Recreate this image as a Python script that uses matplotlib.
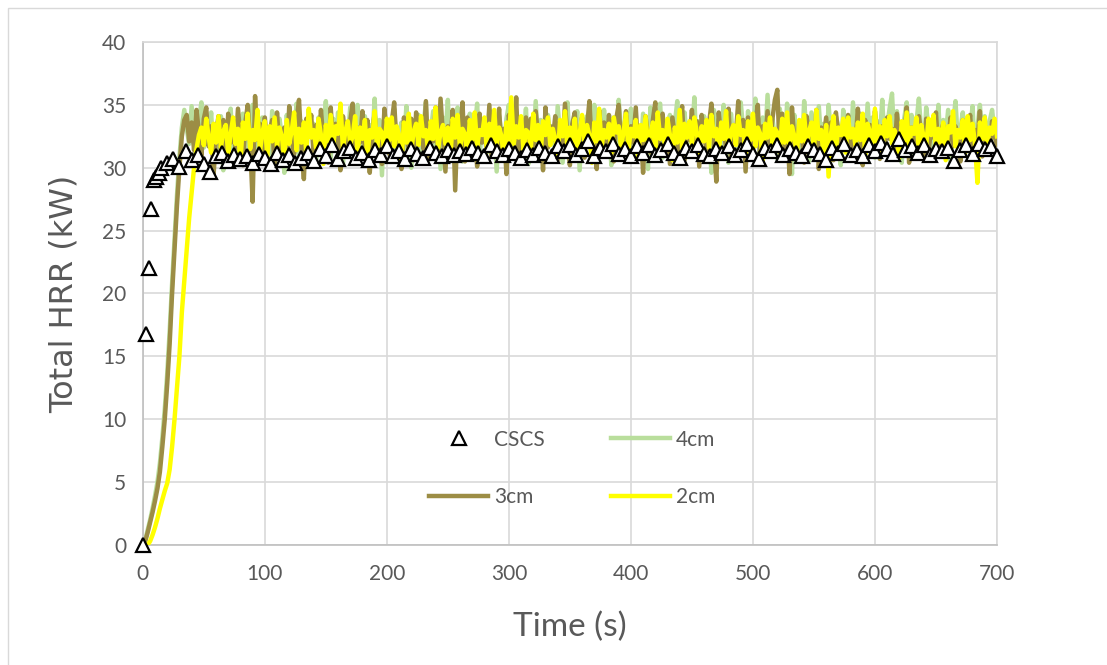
import numpy as np
import matplotlib
matplotlib.use("Agg")
import matplotlib.pyplot as plt
from matplotlib.patches import Rectangle

# total heat release rate, sampled every 2 s from t = 0
DT = 2

hrr_4cm = [
    0, 0.4, 1.2, 2.0, 2.9, 3.9, 5.0, 6.5, 8.5, 10.8, 13.6, 17.0, 20.8, 24.3, 27.8, 30.8, 33.2,
    34.6, 33.1, 31.9, 34.9, 32.4, 30.3, 33.7, 35.2, 31.6, 33.0,
    32.2, 34.4, 30.8, 33.5, 31.4, 34.1, 29.8, 33.2, 32.6, 34.7,
    31.1, 33.8, 32.0, 30.5, 34.3, 32.9, 31.7, 33.4, 35.0, 30.9,
    33.6, 32.3, 34.0, 31.2, 32.8, 30.1, 34.5, 33.0, 31.8, 33.9,
    32.5, 29.6, 34.2, 31.5, 33.3, 32.1, 35.1, 30.7, 33.7, 32.4,
    31.0, 34.6, 32.7, 33.5, 30.4, 34.0, 31.9, 33.2, 35.3, 32.2,
    30.8, 33.9, 31.6, 34.4, 32.9, 30.2, 33.6, 32.3, 34.8, 31.3,
    33.0, 35.0, 31.7, 32.6, 34.1, 30.6, 33.4, 32.0, 35.5, 31.1,
    33.8, 29.4, 34.3, 32.5, 31.4, 33.1, 34.7, 30.9, 32.8, 33.6,
    31.5, 34.9, 32.2, 30.0, 33.7, 32.7, 34.2, 31.2, 33.3, 35.2,
    30.6, 32.9, 34.5, 31.8, 33.5, 29.9, 34.0, 32.4, 35.4, 31.0,
    33.2, 31.6, 34.8, 32.3, 30.5, 33.8, 32.0, 34.3, 31.4, 33.0,
    35.1, 30.8, 33.6, 32.6, 31.2, 34.6, 32.1, 33.4, 29.7, 34.1,
    32.8, 31.5, 33.9, 35.0, 30.7, 32.5, 34.4, 31.9, 33.1, 32.2,
    34.7, 30.3, 33.5, 32.0, 35.3, 31.3, 33.8, 32.6, 30.9, 34.2,
    32.4, 33.3, 31.1, 34.9, 32.7, 30.4, 33.6, 35.2, 31.7, 33.0,
    32.3, 34.5, 29.8, 33.7, 31.6, 34.1, 32.8, 30.6, 35.0, 32.1,
    33.4, 31.0, 34.6, 32.5, 33.2, 30.2, 34.0, 31.8, 35.4, 32.9,
    31.4, 33.9, 32.2, 34.7, 30.7, 33.3, 32.6, 31.2, 34.3, 33.0,
    29.9, 34.8, 32.4, 33.6, 31.5, 35.1, 30.8, 33.1, 32.7, 34.2,
    31.3, 33.5, 35.3, 30.5, 32.9, 34.4, 31.9, 33.2, 32.0, 35.6,
    30.9, 33.7, 32.3, 34.1, 31.1, 33.0, 29.6, 34.6, 32.5, 33.8,
    31.7, 35.0, 32.8, 30.4, 34.3, 32.2, 33.4, 31.4, 35.2, 33.1,
    30.8, 34.5, 32.6, 31.9, 35.5, 33.3, 30.3, 34.0, 32.1, 35.8,
    31.6, 33.9, 32.4, 30.7, 34.7, 33.0, 31.2, 35.1, 32.9, 29.5,
    34.2, 32.3, 33.6, 31.0, 35.3, 32.7, 30.5, 34.4, 33.1, 31.8,
    34.9, 32.0, 33.5, 30.9, 35.0, 32.6, 31.4, 34.1, 33.2, 30.2,
    34.6, 32.5, 33.8, 31.3, 35.2, 32.9, 30.6, 34.3, 33.4, 31.7,
    35.1, 32.2, 34.0, 30.8, 33.7, 32.4, 35.4, 31.5, 33.3, 34.7,
    35.9, 31.9, 34.5, 32.8, 30.4, 33.9, 35.2, 32.1, 34.2, 31.1,
    33.6, 35.5, 32.7, 30.7, 34.8, 33.1, 31.6, 34.0, 32.3, 35.0,
    31.3, 33.8, 32.6, 34.6, 30.1, 33.4, 35.3, 32.0, 33.0, 34.4,
    31.8, 33.5, 32.9, 34.9, 30.9, 33.2, 35.0, 32.4, 34.1, 31.5,
    33.7, 34.6, 32.8, 33.3,
]

hrr_3cm = [
    0, 0.3, 1.0, 1.8, 2.6, 3.5, 4.5, 5.8, 7.8, 10.0, 12.8, 16.0, 20.0, 23.5, 27.0, 30.0, 32.5, 33.8,
    34.2, 32.1, 33.6, 31.4, 34.6, 32.8, 30.9, 33.9, 34.8, 31.7,
    33.3, 29.4, 32.6, 34.1, 31.2, 33.8, 30.6, 34.3, 32.0, 33.1,
    31.5, 34.7, 32.4, 30.2, 33.6, 35.0, 31.9, 27.3, 35.7, 32.2,
    33.5, 30.8, 34.0, 31.6, 32.9, 33.8, 29.9, 34.4, 31.3, 32.7,
    33.2, 30.5, 34.9, 32.3, 31.1, 33.7, 35.4, 31.8, 29.1, 33.9,
    32.6, 34.2, 30.9, 33.4, 31.5, 34.6, 32.1, 33.0, 30.4, 34.8,
    31.9, 33.5, 32.3, 29.8, 34.1, 32.8, 31.2, 33.7, 35.1, 30.7,
    33.2, 32.0, 34.5, 31.4, 33.8, 29.6, 32.9, 34.3, 31.7, 33.0,
    30.3, 34.7, 32.5, 31.1, 33.6, 35.2, 31.8, 32.4, 29.9, 34.0,
    32.7, 31.3, 33.9, 30.6, 34.4, 32.2, 33.1, 31.5, 35.3, 30.8,
    33.5, 32.1, 34.8, 31.0, 35.5, 32.6, 29.7, 33.3, 31.9, 34.6,
    28.2, 33.7, 32.4, 35.2, 30.5, 34.0, 31.6, 33.2, 32.8, 30.1,
    34.3, 32.0, 33.6, 31.4, 35.0, 30.9, 33.8, 32.3, 34.7, 31.2,
    33.1, 29.5, 34.2, 32.7, 31.8, 35.6, 30.4, 33.4, 32.1, 34.0,
    31.3, 33.9, 30.7, 34.5, 32.5, 33.0, 29.8, 34.8, 31.6, 33.3,
    32.2, 34.1, 30.6, 33.7, 31.9, 35.1, 32.4, 30.2, 33.5, 34.4,
    31.1, 32.8, 34.0, 30.8, 33.2, 35.3, 31.5, 32.9, 29.9, 34.6,
    32.3, 33.6, 31.0, 34.2, 32.7, 30.5, 33.9, 35.0, 31.8, 32.4,
    34.5, 30.9, 33.3, 32.0, 34.8, 31.4, 33.0, 29.6, 34.1, 32.6,
    31.2, 33.8, 35.2, 30.7, 32.9, 34.3, 31.7, 33.4, 30.3, 34.0,
    32.5, 31.0, 33.6, 34.9, 30.6, 33.1, 32.2, 34.6, 31.5, 33.7,
    30.1, 34.2, 32.8, 31.3, 33.5, 35.1, 31.9, 28.9, 34.4, 32.3,
    33.0, 31.6, 34.7, 30.8, 33.2, 32.6, 35.3, 31.1, 33.8, 29.7,
    34.0, 32.4, 31.4, 33.6, 35.0, 30.5, 33.3, 32.0, 34.5, 31.8,
    33.9, 35.4, 36.2, 31.2, 34.3, 30.9, 33.1, 29.5, 34.8, 32.2,
    31.5, 33.7, 32.9, 30.4, 34.1, 32.5, 33.4, 31.0, 34.6, 29.9,
    33.2, 32.1, 34.0, 31.7, 33.6, 30.6, 34.4, 32.7, 31.3, 33.5,
    32.4, 34.2, 30.8, 33.0, 31.9, 34.7, 32.6, 30.2, 33.8, 32.0,
    33.4, 31.1, 34.5, 32.8, 30.7, 33.3, 31.6, 34.0, 32.3, 33.1,
    30.9, 34.3, 31.8, 33.6, 32.5, 34.8, 30.4, 33.2, 32.0, 31.5,
    34.1, 32.7, 30.6, 33.9, 31.4, 33.0, 32.4, 34.4, 31.2, 32.9,
    33.5, 30.8, 32.2, 34.0, 31.7, 33.3, 32.6, 30.5, 33.8, 31.9,
    32.8, 34.2, 31.3, 33.0, 32.1, 34.5, 30.9, 33.4, 32.3, 31.6,
    33.7, 32.5, 31.8,
]

hrr_2cm = [
    0, 0, 0, 0.3, 0.8, 1.4, 2.1, 2.9, 3.6, 4.3, 4.9, 6.0, 7.8, 10.0, 12.5, 15.0,
    18.5, 21.0, 23.5, 26.0, 28.0, 30.0, 31.5, 32.6,
    33.2, 31.8, 33.9, 32.4, 31.2, 33.5, 32.0, 34.1, 31.6, 32.9,
    33.4, 31.1, 32.7, 34.0, 31.9, 33.1, 30.4, 33.6, 32.3, 34.3,
    31.5, 33.0, 32.2, 34.6, 31.3, 32.8, 33.7, 30.9, 33.3, 32.1,
    34.0, 31.7, 33.2, 32.5, 30.6, 33.8, 31.9, 32.9, 34.4, 31.4,
    33.1, 32.0, 33.6, 31.2, 34.7, 32.4, 33.0, 31.6, 33.9, 32.6,
    30.3, 33.4, 32.1, 34.2, 31.8, 33.3, 32.7, 35.1, 31.5, 32.9,
    33.7, 31.9, 32.5, 34.1, 31.1, 33.2, 32.3, 33.8, 30.8, 33.0,
    32.4, 34.5, 31.6, 33.1, 32.8, 31.3, 33.9, 32.2, 34.0, 31.7,
    33.3, 32.6, 30.5, 33.6, 32.0, 34.3, 31.4, 32.9, 33.5, 31.8,
    34.1, 32.5, 33.0, 31.2, 33.7, 32.3, 34.8, 31.6, 32.8, 33.4,
    31.9, 33.2, 30.7, 33.9, 32.4, 34.2, 31.5, 33.1, 32.7, 31.0,
    33.8, 32.2, 34.4, 31.7, 33.0, 32.6, 34.0, 31.3, 33.5, 32.1,
    34.6, 31.8, 33.2, 32.5, 30.6, 33.6, 32.0, 35.6, 31.9, 33.3,
    32.4, 34.1, 31.4, 33.0, 32.8, 31.6, 34.3, 32.2, 33.4, 31.1,
    33.7, 32.6, 34.0, 31.8, 33.1, 32.3, 30.9, 33.8, 32.5, 34.5,
    31.5, 33.2, 32.0, 33.9, 31.3, 32.7, 34.2, 31.9, 33.4, 32.6,
    30.4, 33.6, 32.1, 34.7, 31.7, 33.0, 32.4, 33.5, 31.2, 34.0,
    32.8, 33.3, 31.6, 32.9, 34.3, 31.4, 33.1, 32.5, 33.8, 30.8,
    33.4, 32.2, 34.1, 31.8, 32.7, 33.6, 31.3, 34.4, 32.3, 33.0,
    31.7, 33.9, 32.6, 30.6, 33.2, 32.0, 34.6, 31.5, 33.5, 32.4,
    33.7, 31.9, 34.0, 32.8, 31.2, 33.3, 32.1, 33.8, 31.6, 34.2,
    32.5, 33.1, 30.9, 33.6, 32.3, 34.5, 31.4, 32.9, 33.4, 31.8,
    34.1, 32.6, 33.0, 31.1, 33.7, 32.2, 34.3, 31.7, 33.2, 32.7,
    30.5, 33.5, 32.4, 34.0, 31.9, 33.1, 32.8, 31.3, 33.9, 32.0,
    34.4, 31.6, 33.3, 32.5, 31.0, 33.8, 32.1, 34.2, 31.8, 32.9,
    33.6, 31.4, 34.6, 32.3, 33.0, 30.7, 33.4, 29.3, 32.7, 34.1,
    31.5, 33.2, 32.6, 33.9, 31.2, 34.0, 32.4, 33.1, 31.8, 33.6,
    32.2, 34.3, 31.0, 33.5, 32.8, 31.7, 34.7, 32.0, 33.3, 31.4,
    33.8, 32.5, 34.1, 31.9, 33.0, 32.3, 30.8, 33.7, 32.1, 34.4,
    31.6, 33.2, 32.7, 34.0, 31.3, 33.4, 32.4, 31.8, 33.9, 32.6,
    34.2, 31.5, 33.1, 32.0, 33.6, 30.6, 33.3, 32.8, 34.5, 31.7,
    33.0, 32.4, 33.8, 31.2, 34.1, 32.2, 33.5, 31.9, 28.8, 33.6,
    32.3, 34.0, 31.6, 33.2, 32.7, 33.9, 32.5,
]

# CSCS reference points (s, kW)
cscs_time = [0, 3, 5, 7, 9, 11, 13] + list(range(15, 701, 5))
cscs_hrr = [
    0, 16.8, 22.0, 26.7, 29.0, 29.3, 29.6,
    30.0, 30.4, 30.7, 30.1, 31.3, 30.6, 31.0, 30.3, 29.7, 30.9,
    31.2, 30.5, 31.0, 30.7, 30.9, 30.4, 31.1, 30.8, 30.3, 31.2,
    30.6, 31.0, 30.4, 30.8, 31.2, 30.5, 31.5, 30.9, 31.8, 30.7,
    31.3, 31.6, 30.8, 31.2, 30.6, 31.4, 31.0, 31.7, 30.9, 31.3,
    30.7, 31.5, 31.1, 30.8, 31.6, 31.2, 30.9, 31.4, 31.0, 31.3,
    31.1, 31.6, 31.2, 30.9, 31.8, 31.3, 31.0, 31.5, 31.2, 30.8,
    31.4, 31.0, 31.6, 31.2, 30.9, 31.7, 31.3, 31.8, 31.0, 31.5,
    32.1, 30.9, 31.6, 31.3, 31.9, 31.1, 31.5, 30.9, 31.7, 31.2,
    31.8, 31.0, 31.4, 31.9, 31.2, 30.8, 31.6, 31.3, 31.8, 31.1,
    30.9, 31.5, 31.2, 31.7, 31.0, 31.4, 31.9, 31.1, 30.7, 31.6,
    31.3, 31.8, 31.0, 31.5, 31.2, 30.9, 31.7, 31.4, 31.1, 30.6,
    31.6, 31.2, 31.9, 31.0, 31.4, 30.9, 31.8, 31.3, 32.0, 31.5,
    31.1, 32.3, 31.4, 31.7, 31.2, 31.8, 31.0, 31.5, 31.3, 31.6,
    30.5, 31.4, 31.8, 31.1, 31.9, 31.5, 31.7, 30.9,
]

x_ticks = [0, 100, 200, 300, 400, 500, 600, 700]
y_ticks = [0, 5, 10, 15, 20, 25, 30, 35, 40]

GREY = "#595959"
GRID = "#D9D9D9"
plt.rcParams["font.family"] = ["Lato", "DejaVu Sans"]

fig = plt.figure(figsize=(11.07, 6.65), dpi=100)
ax = fig.add_axes([0.129, 0.1805, 0.7716, 0.7563])

# chart-area outline
fig.patches.append(Rectangle((8 / 1107, -0.05), 1.1, 1.05 - 8 / 665,
                             transform=fig.transFigure, fill=False,
                             edgecolor=GRID, lw=1.0))


def times(values):
    return np.arange(len(values)) * DT


l4, = ax.plot(times(hrr_4cm), hrr_4cm, color="#B9DE9C", lw=3.2, label="4cm", zorder=2)
l3, = ax.plot(times(hrr_3cm), hrr_3cm, color="#9C8D45", lw=3.2, label="3cm", zorder=3)
l2, = ax.plot(times(hrr_2cm), hrr_2cm, color="#FFFF00", lw=3.2, label="2cm", zorder=4)
lc, = ax.plot(cscs_time, cscs_hrr, ls="none", marker="^", ms=10, mfc="white",
              mec="black", mew=1.6, label="CSCS", zorder=5, clip_on=False)

ax.set_xlim(0, 700)
ax.set_ylim(0, 40)
ax.set_xticks(x_ticks)
ax.set_yticks(y_ticks)
ax.grid(True, color=GRID, lw=1.2)
ax.set_axisbelow(True)
for side in ax.spines.values():
    side.set_color(GRID)
    side.set_linewidth(1.2)
ax.spines["left"].set_color("#BFBFBF")
ax.spines["bottom"].set_color("#BFBFBF")
ax.tick_params(length=0, labelsize=15, labelcolor=GREY)
ax.tick_params(axis="x", pad=14)
ax.tick_params(axis="y", pad=12)

ax.set_xlabel("Time (s)", fontsize=24, color=GREY, labelpad=20)
ax.set_ylabel("Total HRR (kW)", fontsize=23, color=GREY, labelpad=16,
              family="DejaVu Sans")

leg = ax.legend(handles=[lc, l3, l4, l2], labels=["CSCS", "3cm", "4cm", "2cm"],
                ncol=2, loc="center", bbox_to_anchor=(0.503, 0.152), frameon=False,
                fontsize=15, labelcolor=GREY, handlelength=2.8, handletextpad=0.3,
                labelspacing=1.8, columnspacing=3.2)

fig.savefig("out.png", dpi=100)
